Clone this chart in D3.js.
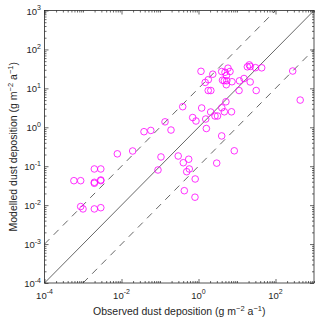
<!DOCTYPE html>
<html>
<head>
<meta charset="utf-8">
<script src="https://d3js.org/d3.v7.min.js"></script>
<style>
body { margin: 0; background: #fff; }
text { font-family: "Liberation Sans", Arial, sans-serif; fill: #262626; }
</style>
</head>
<body>
<svg width="320" height="322"></svg>
<script>
// observed vs modelled dust deposition (g m-2 a-1)
var observed = [5.8e-4, 8.7e-4, 1.97e-3, 2.9e-3, 1.97e-3, 1.97e-3, 2.9e-3, 2.9e-3, 8.7e-4, 1.0e-3,
  1.97e-3, 2.9e-3, 7.8e-3, 0.0195, 0.0384, 0.0577, 0.0887, 0.106, 0.135, 0.193,
  0.297, 0.403, 0.556, 0.577, 0.494, 0.82, 0.428, 0.81, 2.97, 0.389,
  0.706, 0.86, 1.21, 1.60, 1.54, 2.07, 2.68, 3.12, 4.03, 4.68,
  7.2, 5.15, 4.0, 8.5, 1.16, 1.49, 1.80, 2.35, 1.79, 2.09,
  4.0, 4.88, 5.84, 6.58, 5.33, 4.20, 4.68, 5.43, 7.41, 5.27,
  11.6, 15.2, 11.3, 22.0, 31.5, 18.6, 20.9, 22.1, 30.2, 43.8,
  280, 438];
var modelled = [0.0425, 0.0425, 0.085, 0.085, 0.0386, 0.0364, 0.0443, 0.0425, 0.0092, 0.0080,
  0.0080, 0.0086, 0.208, 0.246, 0.77, 0.83, 0.080, 0.173, 1.38, 0.85,
  0.183, 0.123, 0.151, 0.085, 0.0723, 0.047, 0.0235, 0.016, 0.120, 3.38,
  1.78, 1.45, 3.13, 0.93, 1.63, 2.47, 1.95, 1.95, 3.17, 2.50,
  2.50, 4.52, 0.60, 0.249, 27.4, 14.2, 16.7, 23.1, 8.8, 8.8,
  27.1, 25.9, 33.0, 27.1, 21.4, 16.2, 15.7, 15.7, 14.8, 12.4,
  15.6, 17.9, 8.8, 14.6, 8.8, 35.8, 40.1, 36.5, 34.0, 33.7,
  27.9, 5.0];

var xLabelExps = [-4, -2, 0, 2];
var yLabelExps = [-4, -3, -2, -1, 0, 1, 2, 3];
// reference lines: 1:1 and factor-of-ten
var refLines = [
  {factor: 1, from: 1e-4, to: 1e3, dash: null},
  {factor: 10, from: 1e-4, to: 1e2, dash: "7,6"},
  {factor: 0.1, from: 1e-3, to: 1e3, dash: "7,6"}
];

(function() {
var svg = d3.select("svg");
var plotL = 44.5, plotR = 314, plotT = 10.5, plotB = 283;

var x = d3.scaleLog().domain([1e-4, 1e3]).range([plotL, plotR]);
var y = d3.scaleLog().domain([1e-4, 1e3]).range([plotB, plotT]);

function minorTicks(majorExps) {
  var m = [];
  for (var e = -4; e <= 3; e++) {
    for (var k = 1; k < 10; k++) {
      if (e == 3 && k > 1) break;
      if (k == 1 && majorExps.indexOf(e) >= 0) continue;
      m.push(+(k * Math.pow(10, e)).toPrecision(3));
    }
  }
  return m;
}
var xMajor = xLabelExps.map(function(e) { return Math.pow(10, e); });
var yMajor = yLabelExps.map(function(e) { return Math.pow(10, e); });

function drawTicks(makeAxis, transform, vals, size) {
  var g = svg.append("g").attr("transform", transform);
  g.call(makeAxis().tickValues(vals).tickSizeInner(-size).tickSizeOuter(0).tickFormat(""));
  g.select(".domain").remove();
  g.selectAll("text").remove();
  g.selectAll("line").attr("stroke", "#262626").attr("stroke-width", 0.7);
}

var sides = [
  [function() { return d3.axisBottom(x); }, "translate(0," + plotB + ")", xMajor, minorTicks(xLabelExps)],
  [function() { return d3.axisTop(x); }, "translate(0," + plotT + ")", xMajor, minorTicks(xLabelExps)],
  [function() { return d3.axisLeft(y); }, "translate(" + plotL + ",0)", yMajor, minorTicks(yLabelExps)],
  [function() { return d3.axisRight(y); }, "translate(" + plotR + ",0)", yMajor, minorTicks(yLabelExps)]
];
sides.forEach(function(s) {
  drawTicks(s[0], s[1], s[2], 4);
  drawTicks(s[0], s[1], s[3], 2);
});

// reference lines
svg.append("g").selectAll("line")
  .data(refLines)
  .enter().append("line")
    .attr("x1", function(d) { return x(d.from); })
    .attr("y1", function(d) { return y(d.from * d.factor); })
    .attr("x2", function(d) { return x(d.to); })
    .attr("y2", function(d) { return y(d.to * d.factor); })
    .attr("stroke", "#404040")
    .attr("stroke-width", 0.8)
    .attr("stroke-dasharray", function(d) { return d.dash; });

// points
svg.append("g").selectAll("circle")
  .data(observed)
  .enter().append("circle")
    .attr("cx", function(d) { return x(d); })
    .attr("cy", function(d, i) { return y(modelled[i]); })
    .attr("r", 3.3)
    .attr("fill", "none")
    .attr("stroke", "#ff00ff")
    .attr("stroke-width", 0.8);

// box
svg.append("rect")
  .attr("x", plotL).attr("y", plotT)
  .attr("width", plotR - plotL).attr("height", plotB - plotT)
  .attr("fill", "none").attr("stroke", "#262626").attr("stroke-width", 0.8);

// tick labels
function powLabel(sel) {
  sel.append("tspan").text("10");
  sel.append("tspan").attr("dy", -4.5).attr("font-size", 7).text(function(e) { return e; });
}
svg.append("g").selectAll("text")
  .data(xLabelExps)
  .enter().append("text")
    .attr("x", function(e) { return x(Math.pow(10, e)); })
    .attr("y", 298.5)
    .attr("text-anchor", "middle")
    .attr("font-size", 9.5)
    .call(powLabel);

svg.append("g").selectAll("text")
  .data(yLabelExps)
  .enter().append("text")
    .attr("x", 41)
    .attr("y", function(e) { return y(Math.pow(10, e)) + 4; })
    .attr("text-anchor", "end")
    .attr("font-size", 9.5)
    .call(powLabel);

// axis titles
function unitTitle(sel, name) {
  sel.append("tspan").text(name + " dust deposition (g m");
  sel.append("tspan").attr("dy", -4).attr("font-size", 7.5).text("\u22122");
  sel.append("tspan").attr("dy", 4).text(" a");
  sel.append("tspan").attr("dy", -4).attr("font-size", 7.5).text("\u22121");
  sel.append("tspan").attr("dy", 4).text(")");
}
svg.append("text")
  .attr("x", (plotL + plotR) / 2)
  .attr("y", 314.5)
  .attr("text-anchor", "middle")
  .attr("font-size", 10.5)
  .call(unitTitle, "Observed");

svg.append("text")
  .attr("transform", "translate(16.5," + (plotT + plotB) / 2 + ") rotate(-90)")
  .attr("text-anchor", "middle")
  .attr("font-size", 10.5)
  .call(unitTitle, "Modelled");
})();
</script>
</body>
</html>
